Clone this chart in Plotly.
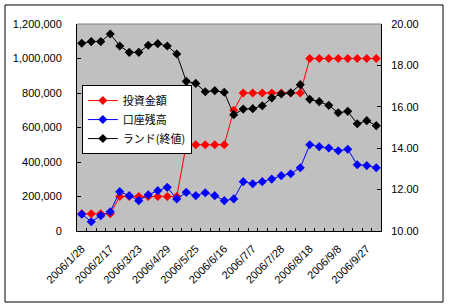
import plotly.graph_objects as go

dates = ["2006/1/28", "2006/2/4", "2006/2/11", "2006/2/17", "2006/3/2", "2006/3/11",
         "2006/3/23", "2006/4/6", "2006/4/15", "2006/4/29", "2006/5/8", "2006/5/16",
         "2006/5/25", "2006/6/1", "2006/6/9", "2006/6/16", "2006/6/23", "2006/6/30",
         "2006/7/7", "2006/7/14", "2006/7/21", "2006/7/28", "2006/8/4", "2006/8/11",
         "2006/8/18", "2006/8/25", "2006/9/1", "2006/9/8", "2006/9/15", "2006/9/22",
         "2006/9/27", "2006/10/6"]

invest = [100000]*4 + [200000]*7 + [500000]*5 + [700000] + [800000]*7 + [1000000]*8

balance = [97000, 54000, 89000, 112000, 228000, 205000, 176000, 210000, 234000, 253000,
           186000, 224000, 205000, 222000, 205000, 176000, 186000, 286000, 274000, 286000,
           301000, 321000, 332000, 367000, 500000, 489000, 481000, 465000, 474000, 384000,
           379000, 367000]

rand = [19.07, 19.15, 19.15, 19.52, 18.94, 18.63, 18.63, 18.97, 19.05, 18.94,
        18.55, 17.23, 17.13, 16.73, 16.78, 16.70, 15.62, 15.89, 15.91, 16.05,
        16.43, 16.62, 16.68, 17.07, 16.36, 16.25, 16.07, 15.71, 15.78, 15.18,
        15.33, 15.09]

names = ["投資金額", "口座残高", "ランド(終値)"]
colors = ["#FF0000", "#0000FF", "#000000"]

idx = list(range(len(dates)))
label_step = 3

fig = go.Figure()
fig.add_trace(go.Scatter(x=idx, y=invest, name=names[0], mode="lines+markers",
                         line=dict(color=colors[0], width=1),
                         marker=dict(symbol="diamond", size=7, color=colors[0])))
fig.add_trace(go.Scatter(x=idx, y=balance, name=names[1], mode="lines+markers",
                         line=dict(color=colors[1], width=1),
                         marker=dict(symbol="diamond", size=7, color=colors[1])))
fig.add_trace(go.Scatter(x=idx, y=rand, name=names[2], mode="lines+markers", yaxis="y2",
                         line=dict(color=colors[2], width=1),
                         marker=dict(symbol="diamond", size=7, color=colors[2])))

num_font = dict(family="Liberation Sans, Arial, sans-serif", size=11, color="black")

fig.update_layout(
    width=450, height=308,
    margin=dict(l=77, r=69, t=24, b=77),
    paper_bgcolor="white",
    plot_bgcolor="#C0C0C0",
    showlegend=True,
    legend=dict(x=0.016, y=0.705, xanchor="left", yanchor="top",
                bgcolor="white", bordercolor="black", borderwidth=1,
                font=dict(family="Noto Sans CJK JP", size=11, color="black"),
                tracegroupgap=0, itemwidth=30),
    xaxis=dict(range=[-0.5, len(dates) - 0.5], showgrid=False, zeroline=False,
               tickmode="array", tickvals=idx[::label_step], ticktext=dates[::label_step],
               tickangle=-45, ticks="", tickfont=num_font, ticklabelstandoff=6,
               showline=True, linecolor="black", linewidth=1,
               minor=dict(tickmode="array", tickvals=[i - 0.5 for i in range(1, len(dates))],
                          ticks="inside", ticklen=3, tickcolor="black", showgrid=False)),
    yaxis=dict(range=[0, 1200000], dtick=200000, tickformat=",", showgrid=False,
               zeroline=False, ticks="inside", ticklen=4, tickcolor="black",
               showline=True, linecolor="black", linewidth=1, tickfont=num_font,
               ticklabelstandoff=12),
    yaxis2=dict(range=[10, 20], dtick=2, tickformat=".2f", overlaying="y", side="right",
                showgrid=False, zeroline=False, ticks="inside", ticklen=4, tickcolor="black",
                showline=True, linecolor="black", linewidth=1, tickfont=num_font,
                ticklabelstandoff=7),
    shapes=[
        dict(type="line", xref="paper", yref="paper", x0=0, x1=1, y0=1, y1=1,
             line=dict(color="#808080", width=1), layer="above"),
        dict(type="rect", xref="paper", yref="paper", x0=-0.2368, x1=1.204,
             y0=-0.343, y1=1.0918, line=dict(color="black", width=1), layer="above"),
    ],
)

fig.write_html("out.html")
